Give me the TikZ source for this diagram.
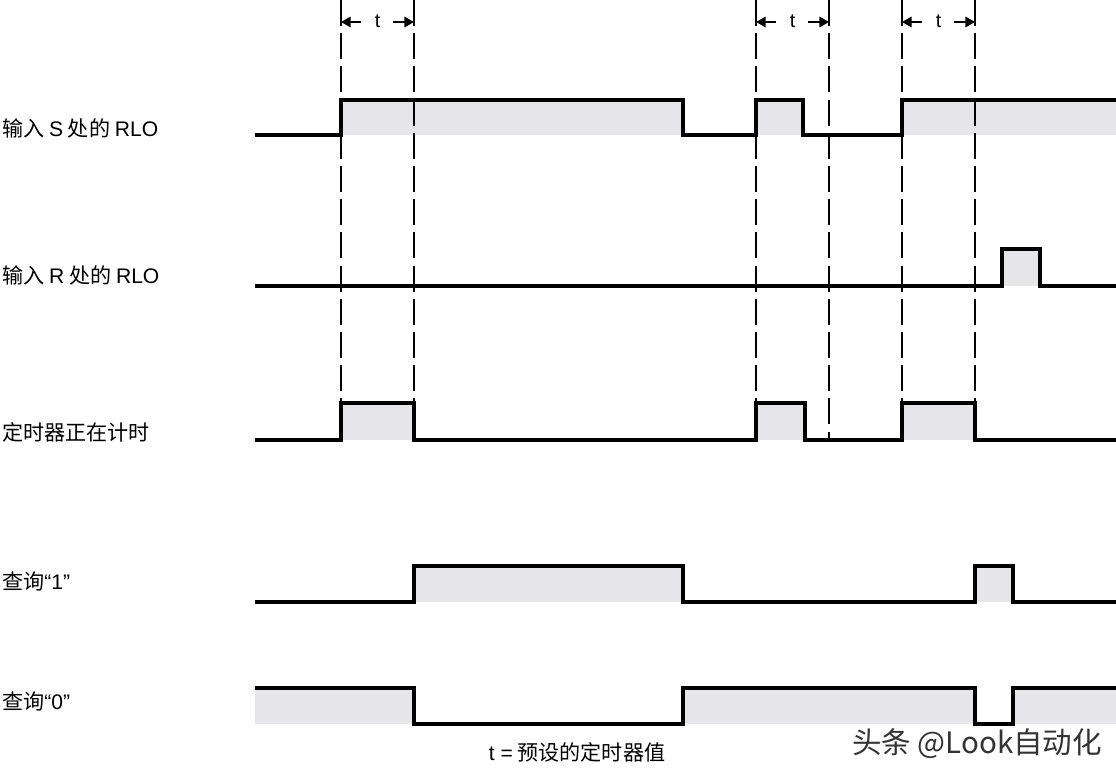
\documentclass[tikz,border=0pt]{standalone}
\usepackage{fontspec}
\newfontfamily\cjk{Noto Sans CJK SC}
\newfontfamily\lat{Liberation Sans}
\usetikzlibrary{arrows.meta,positioning}
\definecolor{sigfill}{HTML}{E6E6E9}

\begin{document}
\begin{tikzpicture}[x=0.25mm,y=-0.25mm,
  sig/.style={line width=2.4pt},
  guide/.style={line width=1.3pt,dash pattern=on 6.5mm off 1.8mm},
  tmark/.style={-{Triangle[length=2.4mm,width=2.6mm]},line width=1.4pt},
  lbl/.style={anchor=west,inner sep=0pt,font=\cjk\fontsize{15}{17}\selectfont}]
  \useasboundingbox (0,0) rectangle (1116,782);
  % High phases (grey)
  \fill[sigfill] (341,100) rectangle (683,135) (756,100) rectangle (803,135)
    (902,100) rectangle (1116,135);
  \fill[sigfill] (1002,249) rectangle (1040,286);
  \fill[sigfill] (341,403) rectangle (414,440) (756,403) rectangle (805,440)
    (902,403) rectangle (975,440);
  \fill[sigfill] (414,566) rectangle (683,602) (975,566) rectangle (1013,602);
  \fill[sigfill] (255,688) rectangle (414,724) (683,688) rectangle (975,724)
    (1013,688) rectangle (1116,724);
  % Guide lines
  \foreach \x/\y in {341/403,414/403,756/403,829/440,902/403,975/403}
    \draw[guide] (\x,0) -- (\x,\y);
  % Preset time t
  \foreach \a/\b in {341/414,756/829,902/975} {
    \draw[tmark] (\a+20,22) -- (\a,22);
    \draw[tmark] (\b-21,22) -- (\b,22);
    \node[font=\lat\fontsize{14}{16}\selectfont] at ({(\a+\b)/2},21) {t};
  }
  % Signals
  \draw[sig] (255,135) -- (341,135) -- (341,100) -- (683,100) -- (683,135)
    -- (756,135) -- (756,100) -- (803,100) -- (803,135) -- (902,135)
    -- (902,100) -- (1116,100);
  \draw[sig] (255,286) -- (1002,286) -- (1002,249) -- (1040,249)
    -- (1040,286) -- (1116,286);
  \draw[sig] (255,440) -- (341,440) -- (341,403) -- (414,403) -- (414,440)
    -- (756,440) -- (756,403) -- (805,403) -- (805,440) -- (902,440)
    -- (902,403) -- (975,403) -- (975,440) -- (1116,440);
  \draw[sig] (255,602) -- (414,602) -- (414,566) -- (683,566) -- (683,602)
    -- (975,602) -- (975,566) -- (1013,566) -- (1013,602) -- (1116,602);
  \draw[sig] (255,688) -- (414,688) -- (414,724) -- (683,724) -- (683,688)
    -- (975,688) -- (975,724) -- (1013,724) -- (1013,688) -- (1116,688);
  % Labels
  \node[lbl] (rlos) at (2,128) {输入 {\lat S} 处的 {\lat RLO}};
  \node[lbl] (rlor) at (2,275) {输入 {\lat R} 处的 {\lat RLO}};
  \node[lbl] (run) at (2,432) {定时器正在计时};
  \node[lbl] (q1) at (2,581) {查询{\lat “1”}};
  \node[lbl] (q0) at (2,701) {查询{\lat “0”}};
  \node[font=\cjk\fontsize{15}{17}\selectfont] (tdef) at (577,752)
    {{\lat t =} 预设的定时器值};
  \node[font=\cjk\fontsize{21}{24}\selectfont,text=black!80] (mark)
    at (977,744) {头条 @Look自动化};
\end{tikzpicture}
\end{document}
